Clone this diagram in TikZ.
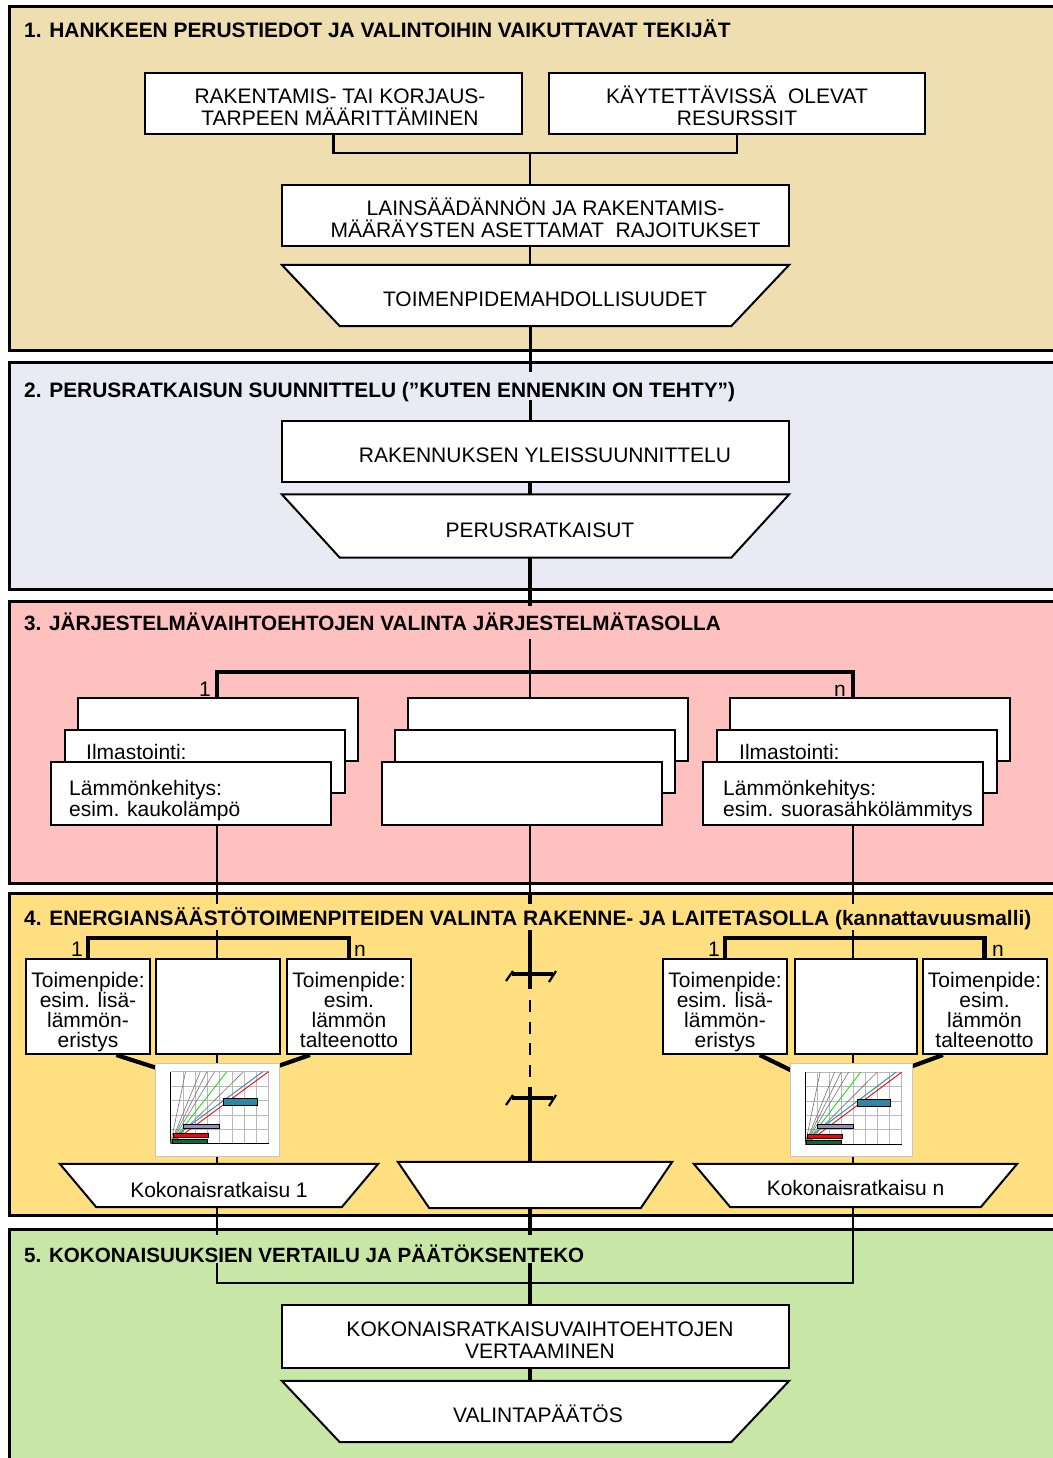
\documentclass[tikz,border=0pt]{standalone}
\usepackage{fontspec}
\setmainfont{Liberation Sans}
\usetikzlibrary{calc}
\pgfdeclarelayer{panels}
\pgfdeclarelayer{lines}
\pgfdeclarelayer{shapes}
\pgfsetlayers{panels,lines,shapes,main}
\definecolor{pA}{HTML}{EFDFB0}
\definecolor{pB}{HTML}{EAEAF4}
\definecolor{pC}{HTML}{FFC0C0}
\definecolor{pD}{HTML}{FFDF80}
\definecolor{pE}{HTML}{C8E6A6}
\definecolor{barteal}{HTML}{2F86A6}
\definecolor{barpurp}{HTML}{9A90C0}
\definecolor{bargreen}{HTML}{0B6B2E}
\definecolor{lineblue}{HTML}{3C8FB0}
\definecolor{linegreen}{HTML}{22DD22}
\newcommand\drawminichart{%
  \foreach \i in {0,...,8}{\draw[gray!55,line width=0.6pt] ({16+\i*12.25},9) -- ({16+\i*12.25},81);}
  \foreach \j in {0,...,5}{\draw[gray!55,line width=0.6pt] (16,{9+\j*14.4}) -- (114,{9+\j*14.4});}
  \draw[black,line width=0.6pt] (16,9) -- (16,81) -- (114,81);
  \foreach \e in {31,45.7,52.3,60,89}{\draw[black!55,line width=0.6pt] (16,81) -- (\e,9);}
  \draw[linegreen,line width=0.9pt] (16,81) -- (72.3,9);
  \draw[red,line width=0.9pt] (16,81) -- (114,9);
  \draw[lineblue,line width=1pt] (18.3,75.3) -- (108.3,9);
  \draw[line width=0.6pt,fill=barteal] (69,35.7) rectangle (102.3,42.7);
  \draw[line width=0.6pt,fill=barpurp] (28.3,61.3) rectangle (64.3,65.3);
  \draw[line width=0.6pt,fill=red] (18.3,71) rectangle (53.3,74.7);
  \draw[line width=0.6pt,fill=bargreen] (17.3,76.7) rectangle (52.3,80.7);
}
% inverted trapezoid drawn on the node's rectangle: #1 node, #2 inset (pt)
\newcommand\trapdraw[2]{%
  \begin{pgfonlayer}{shapes}
  \draw[line width=2pt, fill=white, line join=miter] (#1.north west) -- (#1.north east) -- ([xshift=-#2pt]#1.south east) -- ([xshift=#2pt]#1.south west) -- cycle;
  \end{pgfonlayer}}
\begin{document}
\begin{tikzpicture}[x=1pt,y=-1pt,
  box/.style={draw, line width=2pt, fill=white, rectangle, inner sep=0pt, align=center, font=\fontsize{21}{22}\selectfont},
  one/.style={text height=22pt, text depth=0pt},
  two/.style={text height=44pt, text depth=0pt},
  trap/.style={rectangle, inner sep=0pt, align=center, font=\fontsize{21}{22}\selectfont},
  sbox/.style={draw, line width=2pt, fill=white, rectangle, inner sep=0pt, minimum width=280pt, minimum height=63pt},
  tbox/.style={draw, line width=2pt, fill=white, rectangle, inner sep=0pt, minimum width=124pt, minimum height=95pt, align=center, font=\fontsize{21}{20}\selectfont, text height=81pt, text depth=0pt},
  lab/.style={inner sep=0pt, anchor=base, font=\fontsize{21}{22}\selectfont},
  stxt/.style={inner sep=0pt, anchor=north west, align=left, font=\fontsize{21}{21}\selectfont},
  ttl/.style={anchor=base west, inner xsep=2pt, inner ysep=0pt},
  chart/.style={draw=gray!45, line width=0.8pt, fill=white, rectangle, inner sep=0pt, minimum height=93pt},
  panel/.style={draw=black, line width=3pt},
  lnA/.style={line width=2.2pt},
  lnB/.style={line width=3pt},
  lnC/.style={line width=4.2pt},
  lnD/.style={line width=2.6pt},
]
\useasboundingbox (0,0) rectangle (1052,1458);

% axes
\coordinate (ax) at (530,0);
\coordinate (axL) at (217,0);
\coordinate (axR) at (853,0);
\coordinate (j1) at (530,153);
\coordinate (j3) at (530,672);
\coordinate (j4L) at (217,938);
\coordinate (j4R) at (853,938);
\coordinate (j5L) at (217,1283);
\coordinate (j5R) at (853,1283);
\coordinate (brk1) at (530,974);
\coordinate (brk2) at (530,1098);

% panels
\begin{pgfonlayer}{panels}
\fill[white] (0,0) rectangle (1052,1458);
\draw[panel, fill=pA] (9,7) rectangle (1075,350);
\draw[panel, fill=pB] (9,362) rectangle (1075,589);
\draw[panel, fill=pC] (9,601) rectangle (1075,883);
\draw[panel, fill=pD] (9,893) rectangle (1075,1215);
\draw[panel, fill=pE] (9,1229) rectangle (1075,1475);
\end{pgfonlayer}

% titles
\node[ttl, fill=pA, text height=20pt, text depth=5pt, font=\fontsize{20.9}{24}\selectfont\bfseries] (T1) at (22,38) {1. HANKKEEN PERUSTIEDOT JA VALINTOIHIN VAIKUTTAVAT TEKIJÄT};
\node[ttl, fill=pB, text height=25pt, text depth=3pt, font=\fontsize{20.9}{24}\selectfont\bfseries] (T2) at (22,397) {2. PERUSRATKAISUN SUUNNITTELU (”KUTEN ENNENKIN ON TEHTY”)};
\node[ttl, fill=pC, text height=24pt, text depth=9pt, font=\fontsize{20.7}{24}\selectfont\bfseries] (T3) at (22,630) {3. JÄRJESTELMÄVAIHTOEHTOJEN VALINTA JÄRJESTELMÄTASOLLA};
\node[ttl, fill=pD, text height=21pt, text depth=5pt, font=\fontsize{20.9}{24}\selectfont\bfseries] (T4) at (22,925) {4. ENERGIANSÄÄSTÖTOIMENPITEIDEN VALINTA RAKENNE- JA LAITETASOLLA (kannattavuusmalli)};
\node[ttl, fill=pE, text height=27pt, text depth=1pt, font=\fontsize{20.6}{24}\selectfont\bfseries] (T5) at (22,1262) {5. KOKONAISUUKSIEN VERTAILU JA PÄÄTÖKSENTEKO};

% section 1
\node[box, two, minimum width=377pt, minimum height=61pt] (A) at (333.5,103.5) {\hspace*{13pt}RAKENTAMIS- TAI KORJAUS-\\\hspace*{13pt}TARPEEN MÄÄRITTÄMINEN};
\node[box, two, minimum width=376pt, minimum height=61pt] (B) at (737,103.5) {KÄYTETTÄVISSÄ~ OLEVAT\\RESURSSIT};
\node[box, two, minimum width=507pt, minimum height=61pt] (C) at (535.5,215.5) {\hspace*{20pt}LAINSÄÄDÄNNÖN JA RAKENTAMIS-\\\hspace*{20pt}MÄÄRÄYSTEN ASETTAMAT~ RAJOITUKSET};
\node[trap, one, minimum width=507pt, minimum height=61pt] (D) at (535.5,295.5) {\hspace*{19pt}TOIMENPIDEMAHDOLLISUUDET};
\trapdraw{D}{58}

% section 2
\node[box, one, minimum width=507pt, minimum height=61pt] (E) at (535.5,451.5) {\hspace*{19pt}RAKENNUKSEN YLEISSUUNNITTELU};
\node[trap, one, minimum width=507pt, minimum height=63pt] (F) at (535.5,526) {\hspace*{9pt}PERUSRATKAISUT};
\trapdraw{F}{58}

% section 3
\node[sbox] (b3L) at (218,729.5) {};
\node[sbox] (m3L) at (205,761.5) {};
\node[sbox] (f3L) at (191,793.5) {};
\node[sbox] (b3M) at (548,729.5) {};
\node[sbox] (m3M) at (535,761.5) {};
\node[sbox] (f3M) at (522,793.5) {};
\node[sbox] (b3R) at (870,729.5) {};
\node[sbox] (m3R) at (857,761.5) {};
\node[sbox] (f3R) at (843,793.5) {};
\node[stxt] (tm3L) at ($(m3L.north west)+(22,15)$) {Ilmastointi:};
\node[stxt] (tf3L) at ($(f3L.north west)+(19,19)$) {Lämmönkehitys:\\esim. kaukolämpö};
\node[stxt] (tm3R) at ($(m3R.north west)+(23,15)$) {Ilmastointi:};
\node[stxt] (tf3R) at ($(f3R.north west)+(21,19)$) {Lämmönkehitys:\\esim. suorasähkölämmitys};
\node[lab] (n31) at (205,696) {1};
\node[lab] (n3n) at (840,696) {n};

% section 4
\node[tbox] (L1) at (88,1006.5) {Toimenpide:\\esim. lisä-\\lämmön-\\eristys};
\node[tbox] (L2) at (218,1006.5) {};
\node[tbox] (L3) at (349,1006.5) {Toimenpide:\\esim.\\lämmön\\talteenotto};
\node[tbox] (R1) at (725,1006.5) {Toimenpide:\\esim. lisä-\\lämmön-\\eristys};
\node[tbox, minimum width=122pt] (R2) at (856,1006.5) {};
\node[tbox] (R3) at (984.5,1006.5) {Toimenpide:\\esim.\\lämmön\\talteenotto};
\node[lab] (n41) at (77,956) {1};
\node[lab] (n4n) at (360,956) {n};
\node[lab] (n4R1) at (714,956) {1};
\node[lab] (n4Rn) at (998,956) {n};

\node[chart, minimum width=124pt] (chL) at (217,1109.5) {};
\begin{scope}[shift={(chL.north west)}]
\drawminichart
\end{scope}
\node[chart, minimum width=122pt] (chR) at (851,1110) {};
\begin{scope}[shift={(chR.north west)}, xscale=0.984]
\drawminichart
\end{scope}

\node[trap, text height=23pt, text depth=0pt, minimum width=318pt, minimum height=43pt] (K1) at (219,1185.5) {Kokonaisratkaisu 1};
\trapdraw{K1}{36.5}
\node[trap, minimum width=274pt, minimum height=46pt] (Km) at (535,1185) {};
\trapdraw{Km}{31.5}
\node[trap, text height=19pt, text depth=0pt, minimum width=323pt, minimum height=43pt] (Kn) at (855.5,1185.5) {Kokonaisratkaisu n};
\trapdraw{Kn}{36.5}

% section 5
\node[box, two, minimum width=507pt, minimum height=63pt] (G) at (535.5,1336.5) {\hspace*{9pt}KOKONAISRATKAISUVAIHTOEHTOJEN\\\hspace*{9pt}VERTAAMINEN};
\node[trap, one, minimum width=507pt, minimum height=61pt] (H) at (535.5,1411.5) {\hspace*{5pt}VALINTAPÄÄTÖS};
\trapdraw{H}{58}

% connectors
\begin{pgfonlayer}{lines}
\draw[lnA] (A.south) |- (j1) -| (B.south);
\draw[lnA] (j1) -- (j1 |- C.north);
\draw[lnA] (ax |- C.south) -- (ax |- D.north);
\draw[lnB] (ax |- D.south) -- (ax |- E.north);
\draw[lnC] (ax |- E.south) -- (ax |- F.north);
\draw[lnC] (ax |- F.south) -- (530,610);
\draw[lnA] (530,610) -- (ax |- b3M.north);
\draw[lnC] (axL |- b3L.north) |- (j3) -| (axR |- b3R.north);
\draw[lnA] (axL |- f3L.south) -- (j4L);
\draw[lnA] (axR |- f3R.south) -- (j4R);
\draw[lnA] (ax |- f3M.south) -- (530,895);
\draw[lnC] (530,895) -- (530,989);
\draw[lnA, dash pattern=on 12pt off 9.7pt] (530,1000) -- (530,1077.5);
\draw[lnC] (530,1087) -- (ax |- G.north);
\draw[lnC] (ax |- G.south) -- (ax |- H.north);
\draw[lnC] (L1.north) |- (j4L) -| (L3.north);
\draw[lnA] (j4L) -- (axL |- L2.north);
\draw[lnC] (R1.north) |- (j4R) -| (R3.north);
\draw[lnA] (j4R) -- (axR |- R2.north);
\draw[lnD] (axL |- L2.south) -- (j5L) -- (j5R) -- (axR |- R2.south);
\draw[lnC] ($(L1.south)!0.45!(L1.south east)$) -- ($(chL.north west)+(1,5)$);
\draw[lnC] ($(L3.south west)!0.38!(L3.south)$) -- ($(chL.north east)+(0,3)$);
\draw[lnC] ($(R1.south)!0.55!(R1.south east)$) -- ($(chR.north west)+(1,7)$);
\draw[lnC] ($(R3.south west)!0.34!(R3.south)$) -- ($(chR.north east)+(0,3)$);
% break marks
\draw[lnC] ($(brk1)+(-18,0)$) -- ($(brk1)+(23,0)$);
\draw[lnA] ($(brk1)+(-24,7)$) -- ($(brk1)+(-17,-3)$);
\draw[lnA] ($(brk1)+(19,8)$) -- ($(brk1)+(26,-3)$);
\draw[lnC] ($(brk2)+(-18,0)$) -- ($(brk2)+(23,0)$);
\draw[lnA] ($(brk2)+(-24,7)$) -- ($(brk2)+(-17,-3)$);
\draw[lnA] ($(brk2)+(19,8)$) -- ($(brk2)+(26,-3)$);
\end{pgfonlayer}
\end{tikzpicture}
\end{document}
